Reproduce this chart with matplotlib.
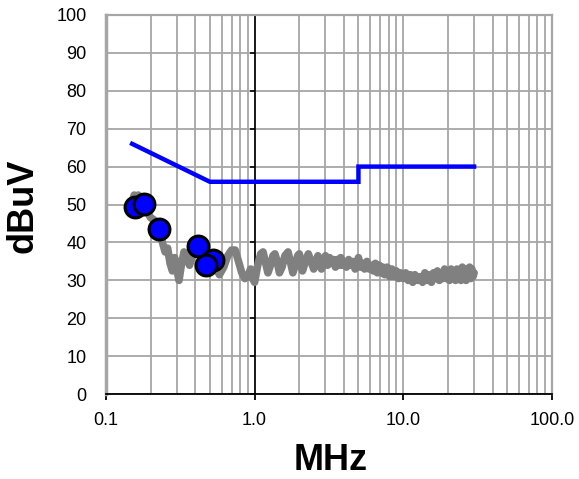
import matplotlib
matplotlib.use("Agg")
import matplotlib.pyplot as plt
from matplotlib.ticker import FixedLocator, LogLocator, NullFormatter, FixedFormatter

plt.rcParams['font.family'] = ['Liberation Sans', 'DejaVu Sans']

# ---- data ----
scan_freq = [0.150, 0.155, 0.160, 0.165, 0.170, 0.175, 0.180, 0.190, 0.200, 0.210,
             0.220, 0.230, 0.240, 0.250, 0.260, 0.270, 0.280, 0.290, 0.300, 0.310,
             0.320, 0.335, 0.350, 0.365, 0.380, 0.400, 0.420, 0.440, 0.460, 0.480,
             0.500, 0.520, 0.550, 0.580, 0.620, 0.660, 0.700, 0.740, 0.780, 0.820,
             0.860, 0.900, 0.940, 0.970, 1.000, 1.050, 1.100, 1.140, 1.180, 1.230,
             1.280, 1.330, 1.370, 1.420, 1.470, 1.530, 1.600, 1.680, 1.740, 1.810,
             1.880, 1.950, 2.000, 2.050, 2.100, 2.200, 2.300, 2.400, 2.500, 2.580,
             2.670, 2.750, 2.820, 2.900, 3.000, 3.100, 3.200, 3.300, 3.400, 3.500,
             3.600, 3.700, 3.800, 3.900, 4.000, 4.150, 4.300, 4.450, 4.600, 4.750,
             4.900, 5.000, 5.150, 5.300, 5.500, 5.700, 5.900, 6.100, 6.300, 6.500,
             6.700, 6.900, 7.100, 7.300, 7.500, 7.800, 8.100, 8.400, 8.700, 9.000,
             9.300, 9.600, 10.0, 10.4, 10.8, 11.2, 11.6, 12.0, 12.5, 13.0,
             13.5, 14.0, 14.5, 15.0, 15.5, 16.0, 16.5, 17.0, 17.5, 18.0,
             18.5, 19.0, 19.5, 20.0, 20.5, 21.0, 21.5, 22.0, 22.5, 23.0,
             23.5, 24.0, 24.5, 25.0, 25.5, 26.0, 26.5, 27.0, 27.5, 28.0,
             28.5, 29.0, 29.5, 30.0]
scan_level = [50.5, 52.5, 51.0, 52.5, 50.5, 51.5, 49.5, 48.0, 46.5, 46.0,
              44.5, 43.0, 40.0, 37.5, 38.5, 34.5, 32.5, 36.0, 33.0, 30.0,
              33.5, 37.5, 37.0, 34.0, 36.5, 39.5, 40.0, 38.0, 36.0, 37.5,
              35.5, 36.5, 33.5, 31.5, 33.5, 36.5, 38.0, 38.0, 35.0, 32.0,
              30.5, 31.0, 33.0, 30.5, 29.5, 34.0, 37.0, 37.5, 35.0, 32.0,
              34.0, 36.5, 37.0, 35.0, 32.0, 33.5, 36.5, 37.5, 35.0, 32.0,
              34.0, 36.5, 37.0, 35.0, 32.5, 35.0, 37.0, 35.0, 33.0, 35.0,
              36.5, 35.0, 33.0, 34.5, 36.5, 34.0, 36.0, 34.5, 35.5, 33.5,
              35.5, 34.0, 36.0, 34.0, 35.0, 33.5, 35.5, 34.0, 35.0, 33.0,
              34.5, 36.0, 33.5, 34.5, 33.0, 35.0, 33.0, 34.0, 32.5, 34.5,
              32.0, 34.0, 32.0, 33.5, 31.5, 33.5, 31.0, 33.0, 31.0, 32.5,
              30.5, 32.0, 30.5, 32.0, 30.0, 31.5, 29.5, 31.5, 30.0, 31.0,
              29.5, 32.0, 30.0, 31.5, 29.5, 32.0, 30.5, 32.5, 30.0, 32.0,
              30.5, 33.0, 30.5, 32.5, 30.0, 33.0, 30.5, 32.0, 30.0, 33.0,
              30.5, 32.5, 30.0, 33.5, 31.0, 32.5, 30.0, 33.0, 30.5, 33.5,
              30.5, 33.0, 31.0, 32.0]

limit_freq = [0.15, 0.5, 5.0, 5.0, 30.0]
limit_level = [66, 56, 56, 60, 60]

peak_freq = [0.157, 0.180, 0.227, 0.418, 0.523, 0.471]
peak_level = [49.4, 50.1, 43.6, 39.1, 35.4, 34.0]

x_ticks = [0.1, 1.0, 10.0, 100.0]
x_ticklabels = ["0.1", "1.0", "10.0", "100.0"]
y_ticks = [0, 10, 20, 30, 40, 50, 60, 70, 80, 90, 100]

# ---- figure ----
fig = plt.figure(figsize=(5.79, 4.79), dpi=100)
ax = fig.add_axes([0.183, 0.177, 0.770, 0.792])

ax.set_xscale('log')
ax.set_xlim(0.1, 100)
ax.set_ylim(0, 100)

grid_c = '#a6a6a6'
ax.xaxis.set_major_locator(FixedLocator(x_ticks))
ax.xaxis.set_major_formatter(FixedFormatter(x_ticklabels))
ax.xaxis.set_minor_locator(LogLocator(base=10, subs=range(2, 10)))
ax.xaxis.set_minor_formatter(NullFormatter())
ax.set_yticks(y_ticks)
ax.grid(True, which='both', axis='x', color=grid_c, lw=1.3, zorder=0)
ax.grid(True, which='major', axis='y', color=grid_c, lw=1.3, zorder=0)
ax.set_axisbelow(True)

ax.plot(scan_freq, scan_level, color='#808080', lw=5.5, solid_joinstyle='round',
        solid_capstyle='round', zorder=3)
ax.plot(limit_freq, limit_level, color='#0000ff', lw=3.2, solid_joinstyle='miter', zorder=4)
ax.plot(peak_freq, peak_level, ls='none', marker='o', ms=15, mfc='#0000ff',
        mec='black', mew=2.2, zorder=5)

# spines
for s in ['top', 'right']:
    ax.spines[s].set_color(grid_c)
    ax.spines[s].set_linewidth(1.6)
ax.spines['bottom'].set_color('black')
ax.spines['bottom'].set_linewidth(1.3)
ax.spines['left'].set_position(('data', 1.0))
ax.spines['left'].set_color('black')
ax.spines['left'].set_linewidth(1.2)
ax.axvline(0.1, color=grid_c, lw=2.5, zorder=1, clip_on=False)

ax.tick_params(axis='x', which='major', direction='out', length=4, width=1.3,
               labelsize=13, pad=9, colors='black')
ax.tick_params(axis='x', which='minor', length=0)
ax.tick_params(axis='y', which='major', direction='out', length=3.5, width=1.2,
               labelleft=False)

sec = ax.secondary_yaxis(location=0)
sec.set_yticks(y_ticks)
sec.tick_params(length=0, labelsize=13, pad=14)
sec.spines['left'].set_visible(False)

fig.text(22.5 / 579, 1 - 206 / 479, 'dBuV', rotation=90, fontsize=26,
         fontweight='bold', ha='center', va='center')
fig.text(331 / 579, 1 - 460 / 479, 'MHz', fontsize=26, fontweight='bold',
         ha='center', va='center')

fig.savefig('out.png', dpi=100)
